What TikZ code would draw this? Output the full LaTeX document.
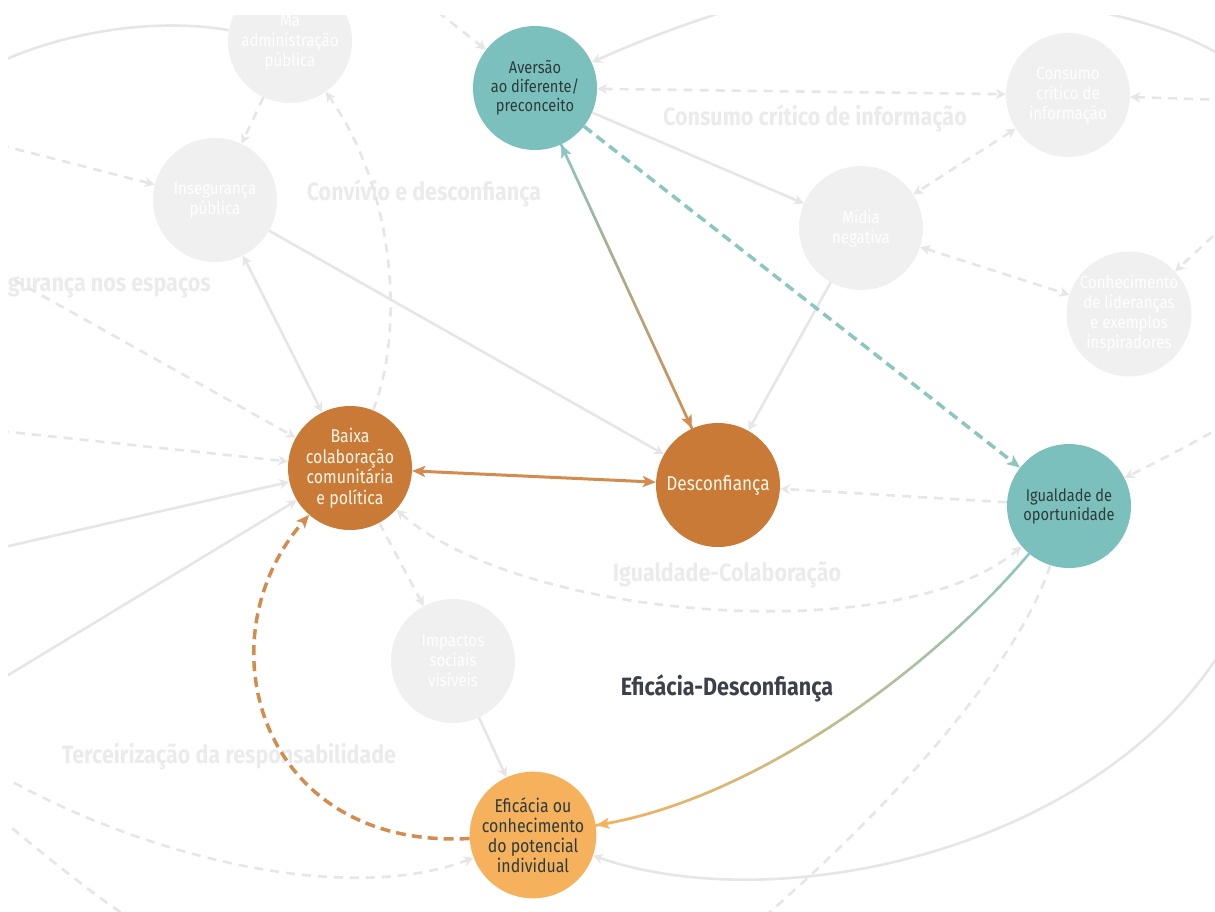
\documentclass[tikz,border=0pt]{standalone}
\usepackage{fontspec}
\setmainfont{Fira Sans}[FakeStretch=0.86]
\usetikzlibrary{arrows.meta,decorations.markings}

\definecolor{teal1}{HTML}{7CC0BD}
\definecolor{sea}{HTML}{8CC6C0}
\definecolor{rust}{HTML}{C97A36}
\definecolor{clay}{HTML}{D38C4E}
\definecolor{apricot}{HTML}{F5B15C}
\definecolor{fog}{HTML}{F0F0F0}
\definecolor{fogline}{HTML}{E6E6E6}
\definecolor{fogtext}{HTML}{EBEBEB}
\definecolor{ink}{HTML}{3D3F4A}
\definecolor{slate}{HTML}{2C3B3B}
\definecolor{cream}{HTML}{FFF6EA}

\tikzset{
  blend/.style 2 args={postaction={decorate, decoration={markings,
    mark=between positions 0 and 1 step 0.7pt with {%
      \pgfmathsetmacro\blendpct{min(100,100*(\pgfkeysvalueof{/pgf/decoration/mark info/distance from start}/\pgfdecoratedpathlength))}%
      \fill[#2!\blendpct!#1] (0,0) circle (1.5pt);}}}},
  tipstart/.style={postaction={decorate, decoration={markings,
    mark=at position 0 with {\arrowreversed[#1]{Stealth[#1,length=13pt,width=11pt,inset=3pt]}}}}},
  tipend/.style={postaction={decorate, decoration={markings,
    mark=at position 0.999 with {\arrow[#1]{Stealth[#1,length=13pt,width=11pt,inset=3pt]}}}}},
}

\begin{document}
\begin{tikzpicture}[x=1pt, y=-1pt,
    hub/.style={circle, minimum size=124pt, inner sep=0pt, align=center},
    ghost/.style={hub, fill=fog, text=white, font=\fontsize{17.5}{20}\selectfont},
    tealhub/.style={hub, fill=teal1, text=slate, font=\fontsize{17}{19}\selectfont},
    rusthub/.style={hub, fill=rust, text=cream, font=\fontsize{18.5}{20.5}\selectfont},
    tag/.style={text=fogtext, font=\fontsize{25}{28}\selectfont\bfseries, inner sep=0pt},
    faint/.style={draw=fogline, line width=2.6pt},
    faintdash/.style={faint, dash pattern=on 9pt off 7pt},
    ar/.style={-{Stealth[length=10pt,width=10pt,inset=3pt]}},
    arb/.style={{Stealth[length=10pt,width=10pt,inset=3pt]}-{Stealth[length=10pt,width=10pt,inset=3pt]}}]
  \useasboundingbox (0,0) rectangle (1215,911);
  \clip (8,15) rectangle (1215,911);

  % background labels
  \node[tag] (lbconv) at (424,193) {Convívio e desconfiança};
  \node[tag] (lbcons) at (815,118) {Consumo crítico de informação};
  \node[tag, anchor=east] (lbseg) at (211,287) {gurança nos espaços};
  \node[tag] (lbigual) at (727,575) {Igualdade-Colaboração};
  \node[tag] (lbterc) at (229,757) {Terceirização da responsabilidade};
  \node[tag, text=ink] (lbefic) at (727,688) {Eficácia-Desconfiança};

  % faded nodes
  \node[ghost] (mad) at (290,41) {Má\\administração\\pública};
  \node[ghost] (inseg) at (215,200) {Insegurança\\pública};
  \node[ghost] (cons) at (1068,95) {Consumo\\crítico de\\informação};
  \node[ghost] (midia) at (861,228) {Mídia\\negativa};
  \node[ghost] (conhec) at (1129,314) {Conhecimento\\de lideranças\\e exemplos\\inspiradores};
  \node[ghost] (impac) at (453,661) {Impactos\\sociais\\visíveis};

  % highlighted nodes
  \node[tealhub] (aver) at (535,88) {Aversão\\ao diferente/\\preconceito};
  \node[rusthub] (baixa) at (350,468) {Baixa\\colaboração\\comunitária\\e política};
  \node[rusthub, font=\fontsize{20}{22}\selectfont] (desc) at (718,485) {Desconfiança};
  \node[tealhub] (igual) at (1069,506) {Igualdade de\\oportunidade};
  \node[hub, fill=apricot, text=slate, font=\fontsize{18.5}{20}\selectfont] (efic) at (533,835) {Eficácia ou\\conhecimento\\do potencial\\individual};

  % loose ends at the border
  \coordinate (lt0) at (0,62);
  \coordinate (lt1) at (0,145);
  \coordinate (lt2) at (0,272);
  \coordinate (lt3) at (0,431);
  \coordinate (lt4) at (0,548);
  \coordinate (lt5) at (0,680);
  \coordinate (lt6) at (0,775);
  \coordinate (lt7) at (0,818);
  \coordinate (tp1) at (425,2);
  \coordinate (tp2) at (745,5);
  \coordinate (tp3) at (1090,10);
  \coordinate (rt0) at (1225,58);
  \coordinate (rt1) at (1225,100);
  \coordinate (rt2) at (1225,225);
  \coordinate (rt3) at (1225,425);
  \coordinate (rt4) at (1225,645);
  \coordinate (bt1) at (755,925);
  \coordinate (bt2) at (140,925);

  % faded links
  \draw[faint] (lt0) .. controls (70,30) and (160,18) .. (mad);
  \draw[faint, ar] (tp2) .. controls (680,25) and (630,45) .. (aver);
  \draw[faint] (tp3) .. controls (1140,20) and (1190,35) .. (rt0);
  \draw[faintdash, ar] (tp1) -- (aver);
  \draw[faintdash, arb] (aver) -- (cons);
  \draw[faintdash, ar] (rt1) -- (cons);
  \draw[faintdash, arb] (cons) -- (midia);
  \draw[faintdash, arb] (midia) -- (conhec);
  \draw[faintdash, ar] (rt2) -- (conhec);
  \draw[faint, ar] (aver) -- (midia);
  \draw[faint, ar] (midia) -- (desc);
  \draw[faintdash, ar] (rt3) .. controls (1180,450) .. (igual);
  \draw[faintdash, ar] (igual) -- (desc);
  \draw[faintdash, arb] (baixa) .. controls (520,620) and (900,650) .. (igual);
  \draw[faintdash] (igual) .. controls (1020,660) and (900,800) .. (bt1);
  \draw[faint, ar] (rt4) .. controls (1100,850) and (780,920) .. (efic);
  \draw[faint, ar] (impac) -- (efic);
  \draw[faintdash, ar] (baixa) -- (impac);
  \draw[faintdash, ar] (lt6) .. controls (150,860) and (350,905) .. (efic);
  \draw[faintdash] (lt7) .. controls (50,860) and (100,900) .. (bt2);
  \draw[faint, ar] (lt5) -- (baixa);
  \draw[faint, ar] (lt4) -- (baixa);
  \draw[faintdash, ar] (lt3) -- (baixa);
  \draw[faintdash, ar] (lt2) -- (baixa);
  \draw[faintdash, ar] (lt1) -- (inseg);
  \draw[faintdash, ar] (mad) -- (inseg);
  \draw[faintdash, ar] (baixa) .. controls (405,330) and (395,190) .. (mad);
  \draw[faint, arb] (inseg) -- (baixa);
  \draw[faint, ar] (inseg) -- (desc);

  % highlighted links
  \path[blend={sea}{clay}, tipstart=sea, tipend=clay] (aver) -- (desc);
  \draw[clay, line width=3pt, {Stealth[length=13pt,width=11pt,inset=3pt]}-{Stealth[length=13pt,width=11pt,inset=3pt]}] (baixa) -- (desc);
  \draw[sea, line width=3.5pt, dash pattern=on 10pt off 6pt, -{Stealth[length=13pt,width=11pt,inset=3pt]}] (aver) -- (igual);
  \path[blend={sea}{apricot}, tipend=apricot] (igual) .. controls (940,660) and (760,800) .. (efic);
  \draw[clay, line width=3.5pt, dash pattern=on 10pt off 6pt, -{Stealth[length=13pt,width=11pt,inset=3pt]}] (efic) .. controls (260,850) and (200,640) .. (baixa);
\end{tikzpicture}
\end{document}
